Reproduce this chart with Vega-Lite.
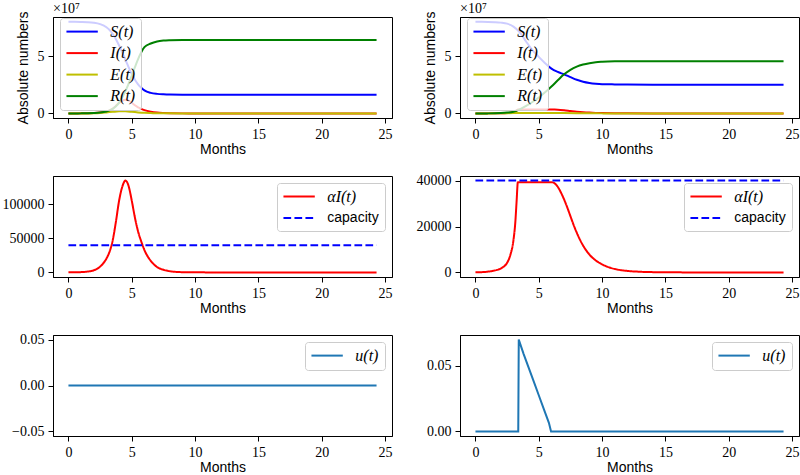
{
  "$schema": "https://vega.github.io/schema/vega-lite/v6.json",
  "padding": {"left": 1, "top": 1, "right": 0, "bottom": 0},
  "datasets": {
    "tl": [
      {"t":0,"s":"S(t)","v":80200000},{"t":0.5,"s":"S(t)","v":80200000},{"t":1,"s":"S(t)","v":80100000},{"t":1.5,"s":"S(t)","v":79900000},{"t":2,"s":"S(t)","v":79400000},{"t":2.5,"s":"S(t)","v":78200000},{"t":3,"s":"S(t)","v":75500000},{"t":3.25,"s":"S(t)","v":73000000},{"t":3.5,"s":"S(t)","v":69500000},{"t":3.75,"s":"S(t)","v":65000000},{"t":4,"s":"S(t)","v":59500000},{"t":4.25,"s":"S(t)","v":53500000},{"t":4.5,"s":"S(t)","v":47000000},{"t":4.75,"s":"S(t)","v":40500000},{"t":5,"s":"S(t)","v":34500000},{"t":5.25,"s":"S(t)","v":29500000},{"t":5.5,"s":"S(t)","v":25500000},{"t":5.75,"s":"S(t)","v":22500000},{"t":6,"s":"S(t)","v":20200000},{"t":6.5,"s":"S(t)","v":18000000},{"t":7,"s":"S(t)","v":17100000},{"t":7.5,"s":"S(t)","v":16700000},{"t":8,"s":"S(t)","v":16500000},{"t":9,"s":"S(t)","v":16400000},{"t":10,"s":"S(t)","v":16400000},{"t":12,"s":"S(t)","v":16400000},{"t":16,"s":"S(t)","v":16400000},{"t":20,"s":"S(t)","v":16400000},{"t":24.33,"s":"S(t)","v":16400000},
      {"t":0,"s":"I(t)","v":5000},{"t":0.5,"s":"I(t)","v":10000},{"t":1,"s":"I(t)","v":40000},{"t":1.5,"s":"I(t)","v":110000},{"t":2,"s":"I(t)","v":270000},{"t":2.5,"s":"I(t)","v":750000},{"t":3,"s":"I(t)","v":1800000},{"t":3.25,"s":"I(t)","v":2700000},{"t":3.5,"s":"I(t)","v":4200000},{"t":3.75,"s":"I(t)","v":6600000},{"t":4,"s":"I(t)","v":9300000},{"t":4.25,"s":"I(t)","v":11100000},{"t":4.5,"s":"I(t)","v":11900000},{"t":4.75,"s":"I(t)","v":11200000},{"t":5,"s":"I(t)","v":9300000},{"t":5.25,"s":"I(t)","v":7100000},{"t":5.5,"s":"I(t)","v":5300000},{"t":5.75,"s":"I(t)","v":4000000},{"t":6,"s":"I(t)","v":2900000},{"t":6.5,"s":"I(t)","v":1500000},{"t":7,"s":"I(t)","v":700000},{"t":7.5,"s":"I(t)","v":340000},{"t":8,"s":"I(t)","v":160000},{"t":9,"s":"I(t)","v":30000},{"t":10,"s":"I(t)","v":10000},{"t":12,"s":"I(t)","v":1000},{"t":16,"s":"I(t)","v":0},{"t":20,"s":"I(t)","v":0},{"t":24.33,"s":"I(t)","v":0},
      {"t":0,"s":"E(t)","v":0},{"t":1,"s":"E(t)","v":20000},{"t":2,"s":"E(t)","v":200000},{"t":2.5,"s":"E(t)","v":450000},{"t":3,"s":"E(t)","v":900000},{"t":3.5,"s":"E(t)","v":1400000},{"t":4,"s":"E(t)","v":1800000},{"t":4.5,"s":"E(t)","v":1800000},{"t":5,"s":"E(t)","v":1400000},{"t":5.5,"s":"E(t)","v":900000},{"t":6,"s":"E(t)","v":500000},{"t":6.5,"s":"E(t)","v":300000},{"t":7,"s":"E(t)","v":150000},{"t":8,"s":"E(t)","v":40000},{"t":9,"s":"E(t)","v":10000},{"t":10,"s":"E(t)","v":0},{"t":16,"s":"E(t)","v":0},{"t":24.33,"s":"E(t)","v":0},
      {"t":0,"s":"R(t)","v":0},{"t":0.5,"s":"R(t)","v":10000},{"t":1,"s":"R(t)","v":30000},{"t":1.5,"s":"R(t)","v":100000},{"t":2,"s":"R(t)","v":300000},{"t":2.5,"s":"R(t)","v":700000},{"t":3,"s":"R(t)","v":1700000},{"t":3.25,"s":"R(t)","v":2600000},{"t":3.5,"s":"R(t)","v":4000000},{"t":3.75,"s":"R(t)","v":6200000},{"t":4,"s":"R(t)","v":9500000},{"t":4.25,"s":"R(t)","v":14000000},{"t":4.5,"s":"R(t)","v":19500000},{"t":4.75,"s":"R(t)","v":26000000},{"t":5,"s":"R(t)","v":33000000},{"t":5.25,"s":"R(t)","v":40500000},{"t":5.5,"s":"R(t)","v":47500000},{"t":5.75,"s":"R(t)","v":53500000},{"t":6,"s":"R(t)","v":58000000},{"t":6.5,"s":"R(t)","v":61200000},{"t":7,"s":"R(t)","v":63000000},{"t":7.5,"s":"R(t)","v":63800000},{"t":8,"s":"R(t)","v":64100000},{"t":9,"s":"R(t)","v":64300000},{"t":10,"s":"R(t)","v":64300000},{"t":12,"s":"R(t)","v":64300000},{"t":16,"s":"R(t)","v":64300000},{"t":20,"s":"R(t)","v":64300000},{"t":24.33,"s":"R(t)","v":64300000}
    ],
    "tr": [
      {"t":0,"s":"S(t)","v":80200000},{"t":0.5,"s":"S(t)","v":80200000},{"t":1,"s":"S(t)","v":80100000},{"t":1.5,"s":"S(t)","v":79900000},{"t":2,"s":"S(t)","v":79500000},{"t":2.5,"s":"S(t)","v":78600000},{"t":3,"s":"S(t)","v":76000000},{"t":3.5,"s":"S(t)","v":71000000},{"t":4,"s":"S(t)","v":63000000},{"t":4.5,"s":"S(t)","v":55500000},{"t":5,"s":"S(t)","v":49500000},{"t":5.5,"s":"S(t)","v":44000000},{"t":6,"s":"S(t)","v":39200000},{"t":6.5,"s":"S(t)","v":36300000},{"t":7,"s":"S(t)","v":34200000},{"t":7.5,"s":"S(t)","v":31800000},{"t":8,"s":"S(t)","v":29500000},{"t":8.5,"s":"S(t)","v":27800000},{"t":9,"s":"S(t)","v":26700000},{"t":9.5,"s":"S(t)","v":26000000},{"t":10,"s":"S(t)","v":25600000},{"t":11,"s":"S(t)","v":25400000},{"t":12,"s":"S(t)","v":25300000},{"t":14,"s":"S(t)","v":25200000},{"t":16,"s":"S(t)","v":25200000},{"t":20,"s":"S(t)","v":25200000},{"t":24.33,"s":"S(t)","v":25200000},
      {"t":0,"s":"I(t)","v":5000},{"t":1,"s":"I(t)","v":30000},{"t":2,"s":"I(t)","v":150000},{"t":2.5,"s":"I(t)","v":370000},{"t":2.75,"s":"I(t)","v":660000},{"t":3,"s":"I(t)","v":1230000},{"t":3.25,"s":"I(t)","v":2730000},{"t":3.35,"s":"I(t)","v":3470000},{"t":4,"s":"I(t)","v":3470000},{"t":5,"s":"I(t)","v":3470000},{"t":6,"s":"I(t)","v":3470000},{"t":6.25,"s":"I(t)","v":3420000},{"t":6.5,"s":"I(t)","v":3290000},{"t":7,"s":"I(t)","v":2800000},{"t":7.5,"s":"I(t)","v":2160000},{"t":8,"s":"I(t)","v":1530000},{"t":8.5,"s":"I(t)","v":1030000},{"t":9,"s":"I(t)","v":690000},{"t":9.5,"s":"I(t)","v":460000},{"t":10,"s":"I(t)","v":310000},{"t":11,"s":"I(t)","v":130000},{"t":12,"s":"I(t)","v":60000},{"t":14,"s":"I(t)","v":10000},{"t":16,"s":"I(t)","v":0},{"t":20,"s":"I(t)","v":0},{"t":24.33,"s":"I(t)","v":0},
      {"t":0,"s":"E(t)","v":0},{"t":1,"s":"E(t)","v":20000},{"t":2,"s":"E(t)","v":100000},{"t":3,"s":"E(t)","v":350000},{"t":3.5,"s":"E(t)","v":450000},{"t":4,"s":"E(t)","v":450000},{"t":5,"s":"E(t)","v":450000},{"t":6,"s":"E(t)","v":450000},{"t":6.5,"s":"E(t)","v":400000},{"t":7,"s":"E(t)","v":320000},{"t":8,"s":"E(t)","v":180000},{"t":9,"s":"E(t)","v":80000},{"t":10,"s":"E(t)","v":30000},{"t":12,"s":"E(t)","v":0},{"t":16,"s":"E(t)","v":0},{"t":24.33,"s":"E(t)","v":0},
      {"t":0,"s":"R(t)","v":0},{"t":1,"s":"R(t)","v":30000},{"t":2,"s":"R(t)","v":300000},{"t":2.5,"s":"R(t)","v":700000},{"t":3,"s":"R(t)","v":1500000},{"t":3.5,"s":"R(t)","v":3500000},{"t":4,"s":"R(t)","v":6500000},{"t":4.5,"s":"R(t)","v":10000000},{"t":5,"s":"R(t)","v":14000000},{"t":5.5,"s":"R(t)","v":18500000},{"t":6,"s":"R(t)","v":23500000},{"t":6.5,"s":"R(t)","v":29000000},{"t":7,"s":"R(t)","v":34200000},{"t":7.5,"s":"R(t)","v":38200000},{"t":8,"s":"R(t)","v":41000000},{"t":8.5,"s":"R(t)","v":42800000},{"t":9,"s":"R(t)","v":44000000},{"t":9.5,"s":"R(t)","v":44800000},{"t":10,"s":"R(t)","v":45200000},{"t":11,"s":"R(t)","v":45600000},{"t":12,"s":"R(t)","v":45700000},{"t":14,"s":"R(t)","v":45700000},{"t":16,"s":"R(t)","v":45700000},{"t":20,"s":"R(t)","v":45700000},{"t":24.33,"s":"R(t)","v":45700000}
    ],
    "ml": [
      {"t":0,"s":"αI(t)","v":60},{"t":0.5,"s":"αI(t)","v":110},{"t":1,"s":"αI(t)","v":450},{"t":1.5,"s":"αI(t)","v":1250},{"t":2,"s":"αI(t)","v":3100},{"t":2.5,"s":"αI(t)","v":8500},{"t":3,"s":"αI(t)","v":20400},{"t":3.25,"s":"αI(t)","v":30600},{"t":3.5,"s":"αI(t)","v":47600},{"t":3.75,"s":"αI(t)","v":74800},{"t":4,"s":"αI(t)","v":105500},{"t":4.25,"s":"αI(t)","v":125900},{"t":4.5,"s":"αI(t)","v":135000},{"t":4.75,"s":"αI(t)","v":127000},{"t":5,"s":"αI(t)","v":105500},{"t":5.25,"s":"αI(t)","v":80500},{"t":5.5,"s":"αI(t)","v":60100},{"t":5.75,"s":"αI(t)","v":45400},{"t":6,"s":"αI(t)","v":32900},{"t":6.5,"s":"αI(t)","v":17000},{"t":7,"s":"αI(t)","v":7900},{"t":7.5,"s":"αI(t)","v":3900},{"t":8,"s":"αI(t)","v":1800},{"t":9,"s":"αI(t)","v":340},{"t":10,"s":"αI(t)","v":110},{"t":12,"s":"αI(t)","v":10},{"t":16,"s":"αI(t)","v":0},{"t":20,"s":"αI(t)","v":0},{"t":24.33,"s":"αI(t)","v":0},
      {"t":0,"s":"capacity","v":40000},{"t":24.33,"s":"capacity","v":40000}
    ],
    "mr": [
      {"t":0,"s":"αI(t)","v":60},{"t":0.5,"s":"αI(t)","v":120},{"t":1,"s":"αI(t)","v":350},{"t":1.5,"s":"αI(t)","v":800},{"t":2,"s":"αI(t)","v":1700},{"t":2.25,"s":"αI(t)","v":2600},{"t":2.5,"s":"αI(t)","v":4200},{"t":2.75,"s":"αI(t)","v":7500},{"t":3,"s":"αI(t)","v":14000},{"t":3.15,"s":"αI(t)","v":22000},{"t":3.25,"s":"αI(t)","v":31000},{"t":3.35,"s":"αI(t)","v":39300},{"t":4,"s":"αI(t)","v":39300},{"t":5,"s":"αI(t)","v":39300},{"t":6,"s":"αI(t)","v":39300},{"t":6.25,"s":"αI(t)","v":38800},{"t":6.5,"s":"αI(t)","v":37300},{"t":6.75,"s":"αI(t)","v":34800},{"t":7,"s":"αI(t)","v":31800},{"t":7.25,"s":"αI(t)","v":28300},{"t":7.5,"s":"αI(t)","v":24500},{"t":7.75,"s":"αI(t)","v":20700},{"t":8,"s":"αI(t)","v":17300},{"t":8.5,"s":"αI(t)","v":11700},{"t":9,"s":"αI(t)","v":7800},{"t":9.5,"s":"αI(t)","v":5200},{"t":10,"s":"αI(t)","v":3500},{"t":10.5,"s":"αI(t)","v":2300},{"t":11,"s":"αI(t)","v":1500},{"t":12,"s":"αI(t)","v":650},{"t":13,"s":"αI(t)","v":280},{"t":14,"s":"αI(t)","v":120},{"t":16,"s":"αI(t)","v":20},{"t":18,"s":"αI(t)","v":0},{"t":24.33,"s":"αI(t)","v":0},
      {"t":0,"s":"capacity","v":40000},{"t":24.33,"s":"capacity","v":40000}
    ],
    "bl": [
      {"t":0,"s":"u(t)","v":0},{"t":24.33,"s":"u(t)","v":0}
    ],
    "br": [
      {"t":0,"s":"u(t)","v":0},{"t":3.38,"s":"u(t)","v":0},{"t":3.42,"s":"u(t)","v":0.0698},{"t":3.8,"s":"u(t)","v":0.059},{"t":4.2,"s":"u(t)","v":0.0485},{"t":4.6,"s":"u(t)","v":0.038},{"t":5,"s":"u(t)","v":0.0275},{"t":5.4,"s":"u(t)","v":0.017},{"t":5.8,"s":"u(t)","v":0.0065},{"t":5.97,"s":"u(t)","v":0},{"t":24.33,"s":"u(t)","v":0}
    ]
  },
  "columns": 2,
  "spacing": {"row": 58, "column": 68},
  "bounds": "flush",
  "align": "all",
  "concat": [
    {
      "width": 339, "height": 101,
      "data": {"name": "tl"},
      "title": {"text": "×10⁷"},
      "mark": {"type": "line", "strokeWidth": 2, "interpolate": "monotone"},
      "encoding": {
        "x": {"field": "t", "type": "quantitative", "scale": {"domain": [-1.22, 25.55], "nice": false, "zero": false}, "axis": {"values": [0,5,10,15,20,25], "title": "Months"}},
        "y": {"field": "v", "type": "quantitative", "scale": {"domain": [-4020000, 84420000], "nice": false, "zero": false}, "axis": {"values": [0, 50000000], "labelExpr": "datum.value / 10000000", "title": "Absolute numbers"}},
        "color": {"field": "s", "type": "nominal", "sort": null, "scale": {"domain": ["S(t)","I(t)","E(t)","R(t)"], "range": ["#0000ff","#ff0000","#bfbf00","#008000"]}, "legend": {"title": null, "orient": "none", "legendX": 7, "legendY": 1, "zindex": 1}}
      }
    },
    {
      "width": 339, "height": 101,
      "data": {"name": "tr"},
      "title": {"text": "×10⁷"},
      "mark": {"type": "line", "strokeWidth": 2, "interpolate": "monotone"},
      "encoding": {
        "x": {"field": "t", "type": "quantitative", "scale": {"domain": [-1.22, 25.55], "nice": false, "zero": false}, "axis": {"values": [0,5,10,15,20,25], "title": "Months"}},
        "y": {"field": "v", "type": "quantitative", "scale": {"domain": [-4020000, 84420000], "nice": false, "zero": false}, "axis": {"values": [0, 50000000], "labelExpr": "datum.value / 10000000", "title": "Absolute numbers"}},
        "color": {"field": "s", "type": "nominal", "sort": null, "scale": {"domain": ["S(t)","I(t)","E(t)","R(t)"], "range": ["#0000ff","#ff0000","#bfbf00","#008000"]}, "legend": {"title": null, "orient": "none", "legendX": 7, "legendY": 1, "zindex": 1}}
      }
    },
    {
      "width": 339, "height": 101,
      "data": {"name": "ml"},
      "mark": {"type": "line", "strokeWidth": 2, "interpolate": "monotone"},
      "encoding": {
        "x": {"field": "t", "type": "quantitative", "scale": {"domain": [-1.22, 25.55], "nice": false, "zero": false}, "axis": {"values": [0,5,10,15,20,25], "title": "Months"}},
        "y": {"field": "v", "type": "quantitative", "scale": {"domain": [-6750, 141750], "nice": false, "zero": false}, "axis": {"values": [0, 50000, 100000], "format": "d", "title": null}},
        "color": {"field": "s", "type": "nominal", "scale": {"domain": ["αI(t)","capacity"], "range": ["#ff0000","#0000ff"]}, "legend": {"title": null, "orient": "top-right", "offset": 7, "zindex": 1, "encode": {"labels": {"update": {"font": {"signal": "datum.value == 'capacity' ? 'Liberation Sans' : 'Liberation Serif'"}, "fontStyle": {"signal": "datum.value == 'capacity' ? 'normal' : 'italic'"}, "fontSize": {"signal": "datum.value == 'capacity' ? 14 : 16"}}}}}},
        "strokeDash": {"field": "s", "type": "nominal", "scale": {"domain": ["αI(t)","capacity"], "range": [[1,0],[7.7,3.3]]}, "legend": {"title": null, "orient": "top-right", "offset": 7, "zindex": 1, "encode": {"labels": {"update": {"font": {"signal": "datum.value == 'capacity' ? 'Liberation Sans' : 'Liberation Serif'"}, "fontStyle": {"signal": "datum.value == 'capacity' ? 'normal' : 'italic'"}, "fontSize": {"signal": "datum.value == 'capacity' ? 14 : 16"}}}}}}
      }
    },
    {
      "width": 339, "height": 101,
      "data": {"name": "mr"},
      "mark": {"type": "line", "strokeWidth": 2, "interpolate": "monotone"},
      "encoding": {
        "x": {"field": "t", "type": "quantitative", "scale": {"domain": [-1.22, 25.55], "nice": false, "zero": false}, "axis": {"values": [0,5,10,15,20,25], "title": "Months"}},
        "y": {"field": "v", "type": "quantitative", "scale": {"domain": [-2000, 42000], "nice": false, "zero": false}, "axis": {"values": [0, 20000, 40000], "format": "d", "title": null}},
        "color": {"field": "s", "type": "nominal", "scale": {"domain": ["αI(t)","capacity"], "range": ["#ff0000","#0000ff"]}, "legend": {"title": null, "orient": "top-right", "offset": 7, "zindex": 1, "encode": {"labels": {"update": {"font": {"signal": "datum.value == 'capacity' ? 'Liberation Sans' : 'Liberation Serif'"}, "fontStyle": {"signal": "datum.value == 'capacity' ? 'normal' : 'italic'"}, "fontSize": {"signal": "datum.value == 'capacity' ? 14 : 16"}}}}}},
        "strokeDash": {"field": "s", "type": "nominal", "scale": {"domain": ["αI(t)","capacity"], "range": [[1,0],[7.7,3.3]]}, "legend": {"title": null, "orient": "top-right", "offset": 7, "zindex": 1, "encode": {"labels": {"update": {"font": {"signal": "datum.value == 'capacity' ? 'Liberation Sans' : 'Liberation Serif'"}, "fontStyle": {"signal": "datum.value == 'capacity' ? 'normal' : 'italic'"}, "fontSize": {"signal": "datum.value == 'capacity' ? 14 : 16"}}}}}}
      }
    },
    {
      "width": 339, "height": 101,
      "data": {"name": "bl"},
      "mark": {"type": "line", "strokeWidth": 2},
      "encoding": {
        "x": {"field": "t", "type": "quantitative", "scale": {"domain": [-1.22, 25.55], "nice": false, "zero": false}, "axis": {"values": [0,5,10,15,20,25], "title": "Months"}},
        "y": {"field": "v", "type": "quantitative", "scale": {"domain": [-0.055, 0.055], "nice": false, "zero": false}, "axis": {"values": [-0.05, 0, 0.05], "format": ".2f", "title": null}},
        "color": {"field": "s", "type": "nominal", "scale": {"domain": ["u(t)"], "range": ["#1f77b4"]}, "legend": {"title": null, "orient": "top-right", "offset": 7, "zindex": 1}}
      }
    },
    {
      "width": 339, "height": 101,
      "data": {"name": "br"},
      "mark": {"type": "line", "strokeWidth": 2},
      "encoding": {
        "x": {"field": "t", "type": "quantitative", "scale": {"domain": [-1.22, 25.55], "nice": false, "zero": false}, "axis": {"values": [0,5,10,15,20,25], "title": "Months"}},
        "y": {"field": "v", "type": "quantitative", "scale": {"domain": [-0.0035, 0.0733], "nice": false, "zero": false}, "axis": {"values": [0, 0.05], "format": ".2f", "title": null}},
        "color": {"field": "s", "type": "nominal", "scale": {"domain": ["u(t)"], "range": ["#1f77b4"]}, "legend": {"title": null, "orient": "top-right", "offset": 7, "zindex": 1}}
      }
    }
  ],
  "resolve": {
    "scale": {"x": "independent", "y": "independent", "color": "independent", "strokeDash": "independent"},
    "legend": {"color": "independent", "strokeDash": "independent"},
    "axis": {"x": "independent", "y": "independent"}
  },
  "config": {
    "view": {"stroke": "black", "strokeWidth": 1},
    "axis": {"grid": false, "domainColor": "black", "domainWidth": 1, "tickColor": "black", "tickWidth": 1, "tickSize": 5, "labelPadding": 4, "labelFont": "Liberation Serif", "labelFontSize": 14, "labelColor": "black", "labelFlush": false, "labelOverlap": false, "titleFont": "Liberation Sans", "titleFontSize": 14, "titleFontWeight": "normal", "titleColor": "black"},
    "axisX": {"titlePadding": 1},
    "axisY": {"titlePadding": 7, "minExtent": 0},
    "legend": {"fillColor": "rgba(255,255,255,0.8)", "strokeColor": "#cccccc", "cornerRadius": 3, "padding": 5.6, "symbolType": "M-1.3,0H4.4", "symbolSize": 121, "symbolStrokeWidth": 2, "labelOffset": 28.7, "labelFont": "Liberation Serif", "labelFontStyle": "italic", "labelFontSize": 16, "labelColor": "black", "rowPadding": 5.5},
    "title": {"font": "Liberation Serif", "fontSize": 14, "fontWeight": "normal", "anchor": "start", "offset": -5, "baseline": "alphabetic", "color": "black", "frame": "group"}
  }
}
